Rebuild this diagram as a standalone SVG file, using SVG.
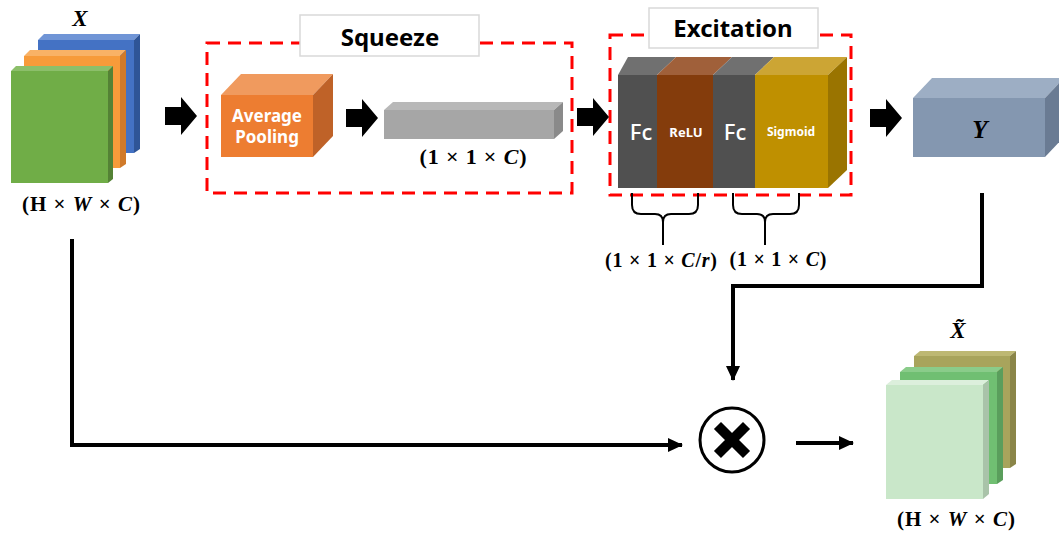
<svg xmlns="http://www.w3.org/2000/svg" width="1059" height="535" viewBox="0 0 1059 535">
<defs>
<style>
.sans{font-family:"Noto Sans","Open Sans","Liberation Sans",sans-serif;font-weight:bold;}
.math{font-family:"Liberation Serif","DejaVu Serif",serif;font-weight:bold;}
.it{font-style:italic;}
.dash{fill:none;stroke:#FF0000;stroke-width:3;stroke-dasharray:13 8;}
.lbox{fill:#FFFFFF;stroke:#D9D9D9;stroke-width:1.5;}
.conn{fill:none;stroke:#000000;stroke-width:4;}
.brace{fill:none;stroke:#000000;stroke-width:2;}
.wt{fill:#FFFFFF;}
</style>
<path id="blk" d="M0,-9 H16 V-19 L32,0 L16,19 V9 H0 Z" fill="#000000"/>
<marker id="ah" markerWidth="16" markerHeight="16" refX="14" refY="8" orient="auto" markerUnits="userSpaceOnUse">
<path d="M0,1 L15,8 L0,15 Z" fill="#000000"/>
</marker>
</defs>
<rect width="1059" height="535" fill="#FFFFFF"/>

<g id="input-X">
<polygon points="38,40 44,34 140,34 134,40" fill="#7095D6"/>
<polygon points="134,40 140,34 140,149 134,153" fill="#2F5597"/>
<rect x="38" y="40" width="96" height="113" fill="#4472C4"/>
<polygon points="24,56 30,50 126,50 120,56" fill="#F9B266"/>
<polygon points="120,56 126,50 126,164 120,168" fill="#D07A2A"/>
<rect x="24" y="56" width="96" height="112" fill="#F79B3A"/>
<polygon points="11,71 16,66 113,66 108,71" fill="#8CBF6A"/>
<polygon points="108,71 113,66 113,179 108,183" fill="#548235"/>
<rect x="11" y="71" width="97" height="112" fill="#70AD47"/>
<text x="80" y="26" text-anchor="middle" class="math it" font-size="23">X</text>
<text x="81" y="211" text-anchor="middle" class="math" font-size="21" textLength="118" lengthAdjust="spacing">(H × <tspan class="it">W</tspan> × <tspan class="it">C</tspan>)</text>
</g>

<g id="squeeze">
<rect x="207" y="43" width="365" height="150" class="dash"/>
<rect x="300" y="15" width="179" height="41" class="lbox"/>
<text x="390" y="46" text-anchor="middle" class="sans" font-size="24">Squeeze</text>
</g>

<g id="avg-pool">
<polygon points="221,95 241,74 333,74 313,95" fill="#F09A5E"/>
<polygon points="313,95 333,74 333,136 313,157" fill="#BF6228"/>
<rect x="221" y="95" width="92" height="62" fill="#ED7D31"/>
<text x="267" y="122" text-anchor="middle" class="sans wt" font-size="17">Average</text>
<text x="267" y="143" text-anchor="middle" class="sans wt" font-size="17">Pooling</text>
</g>

<g id="squeeze-vector">
<polygon points="384,110 393,102 563,102 554,110" fill="#B8B8B8"/>
<polygon points="554,110 563,102 563,131 554,139" fill="#8A8A8A"/>
<rect x="384" y="110" width="170" height="29" fill="#A6A6A6"/>
<text x="473" y="164" text-anchor="middle" class="math" font-size="22" textLength="107" lengthAdjust="spacing">(1 × 1 × <tspan class="it">C</tspan>)</text>
</g>

<g id="excitation">
<rect x="610" y="35" width="241" height="160" class="dash"/>
<rect x="649" y="8" width="169" height="40" class="lbox"/>
<text x="733" y="37" text-anchor="middle" class="sans" font-size="24">Excitation</text>
<polygon points="618,75 628,57 676,57 657,75" fill="#707070"/>
<polygon points="657,75 676,57 732,57 713,75" fill="#A0603A"/>
<polygon points="713,75 732,57 774,57 755,75" fill="#707070"/>
<polygon points="755,75 774,57 847,57 828,75" fill="#CCA534"/>
<polygon points="828,75 847,57 847,170 828,188" fill="#9A7400"/>
<rect x="618" y="75" width="39" height="113" fill="#505050"/>
<rect x="657" y="75" width="56" height="113" fill="#843C0C"/>
<rect x="713" y="75" width="42" height="113" fill="#505050"/>
<rect x="755" y="75" width="73" height="113" fill="#BF9000"/>
<text x="641" y="140" text-anchor="middle" font-family="Noto Sans, Open Sans, Liberation Sans, sans-serif" font-size="22" font-weight="500" class="wt">Fc</text>
<text x="686" y="137" text-anchor="middle" class="sans wt" font-size="13">ReLU</text>
<text x="735" y="140" text-anchor="middle" font-family="Noto Sans, Open Sans, Liberation Sans, sans-serif" font-size="22" font-weight="500" class="wt">Fc</text>
<text x="791" y="136" text-anchor="middle" class="sans wt" font-size="12">Sigmoid</text>
<path class="brace" d="M632,193 V205 Q632,214 641,214 H655 Q663,214 663,222 V245 M663,222 Q663,214 671,214 H689 Q698,214 698,205 V193"/>
<path class="brace" d="M733,193 V205 Q733,214 742,214 H757 Q765,214 765,222 V245 M765,222 Q765,214 773,214 H790 Q799,214 799,205 V193"/>
<text x="661" y="267" text-anchor="middle" class="math" font-size="20" textLength="112" lengthAdjust="spacing">(1 × 1 × <tspan class="it">C</tspan>/<tspan class="it">r</tspan>)</text>
<text x="778" y="266" text-anchor="middle" class="math" font-size="20" textLength="97" lengthAdjust="spacing">(1 × 1 × <tspan class="it">C</tspan>)</text>
</g>

<g id="output-Y">
<polygon points="913,98 932,78 1064,78 1045,98" fill="#9DAEC4"/>
<polygon points="1045,98 1064,78 1064,137 1045,157" fill="#6A7B93"/>
<rect x="913" y="98" width="132" height="59" fill="#8497B0"/>
<text x="980" y="138" text-anchor="middle" class="math it" font-size="25">Y</text>
</g>

<g id="multiply">
<circle cx="732" cy="440" r="32" fill="#FFFFFF" stroke="#000000" stroke-width="3"/>
<path d="M721,429 L743,451 M743,429 L721,451" stroke="#000000" stroke-width="10" stroke-linecap="square"/>
</g>

<g id="output-Xtilde">
<polygon points="914,356 920,351 1016,351 1010,356" fill="#BDB873"/>
<polygon points="1010,356 1016,351 1016,464 1010,468" fill="#8A8548"/>
<rect x="914" y="356" width="96" height="112" fill="#A8A45C"/>
<polygon points="900,372 906,367 1003,367 997,372" fill="#8ACC8A"/>
<polygon points="997,372 1003,367 1003,480 997,484" fill="#5A9E5C"/>
<rect x="900" y="372" width="97" height="112" fill="#70BF72"/>
<polygon points="886,385 892,380 989,380 983,385" fill="#DCEFDC"/>
<polygon points="983,385 989,380 989,494 983,499" fill="#A9C3A9"/>
<rect x="886" y="385" width="97" height="114" fill="#C9E7C9"/>
<text x="958" y="338" text-anchor="middle" class="math it" font-size="23">X̃</text>
<text x="956" y="526" text-anchor="middle" class="math" font-size="21" textLength="118" lengthAdjust="spacing">(H × <tspan class="it">W</tspan> × <tspan class="it">C</tspan>)</text>
</g>

<g id="connectors">
<use href="#blk" x="165" y="116"/>
<use href="#blk" x="346" y="118"/>
<use href="#blk" x="577" y="117"/>
<use href="#blk" x="870" y="118"/>
<polyline class="conn" points="72,239 72,445 682,445" marker-end="url(#ah)"/>
<polyline class="conn" points="982,193 982,286 733,286 733,380" marker-end="url(#ah)"/>
<line class="conn" x1="796" y1="443" x2="853" y2="443" marker-end="url(#ah)"/>
</g>
</svg>
